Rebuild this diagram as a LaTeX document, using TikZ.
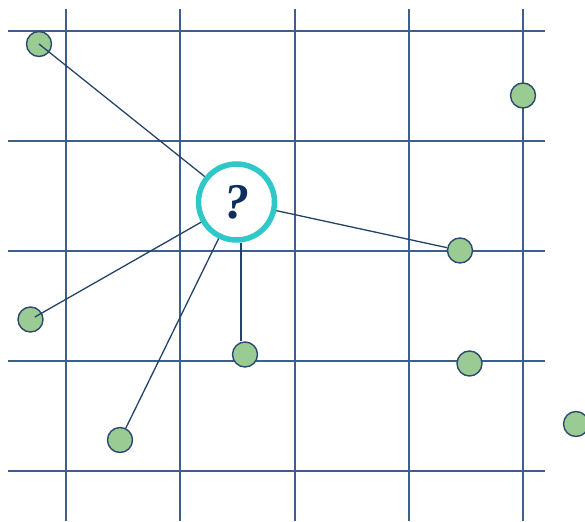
\documentclass[tikz,border=0pt]{standalone}
\usepackage{fontspec}
\newfontfamily\qfont{Liberation Serif}
\usetikzlibrary{calc}
\definecolor{gridc}{HTML}{3D5F8C}
\definecolor{linkc}{HTML}{24416B}
\definecolor{dotfill}{HTML}{9ACB93}
\definecolor{dotline}{HTML}{2C4A70}
\definecolor{teal2}{HTML}{2FC8C8}
\definecolor{qcol}{HTML}{0E2F5C}
\begin{document}
\begin{tikzpicture}[x=1pt,y=-1pt,
  gridline/.style={draw=gridc,line width=1.6pt},
  link/.style={draw=linkc,line width=1.3pt},
  dot/.style={circle,draw=dotline,fill=dotfill,line width=1.4pt,minimum size=25pt,inner sep=0pt},
  query/.style={circle,draw=teal2,fill=white,line width=5.5pt,minimum size=76pt,inner sep=0pt,
     text=qcol,font=\qfont\fontsize{50}{50}\selectfont\bfseries\itshape}]
\useasboundingbox (0,0) rectangle (585,521);
\begin{scope}
\clip (0,0) rectangle (585,521);
% grid
\foreach \x in {66,180,295,409,523} \draw[gridline] (\x,9) -- (\x,521);
\foreach \y in {31,141,251,361,471} \draw[gridline] (8,\y) -- (545,\y);
% nodes
\node[query] (q) at (236.5,202) {\raisebox{-2.5pt}{?}};
\node[dot] (d1) at (39,44) {};
\node[dot] (d2) at (523,95.5) {};
\node[dot] (d3) at (460,250.5) {};
\node[dot] (d4) at (30.5,319.5) {};
\node[dot] (d5) at (245,354.5) {};
\node[dot] (d6) at (469.5,363.5) {};
\node[dot] (d7) at (576,424) {};
\node[dot] (d8) at (120,440) {};
% connectors
\draw[link] (q) -- (d1.center);
\draw[link] (q) -- (d3);
\draw[link,shorten >=5pt] (q) -- (d4.center);
\draw[link] (q) -- (d8);
\draw[link] ([xshift=4.5pt]q.south) -- ([xshift=4.5pt]q.south |- d5.north);
\end{scope}
\end{tikzpicture}
\end{document}
